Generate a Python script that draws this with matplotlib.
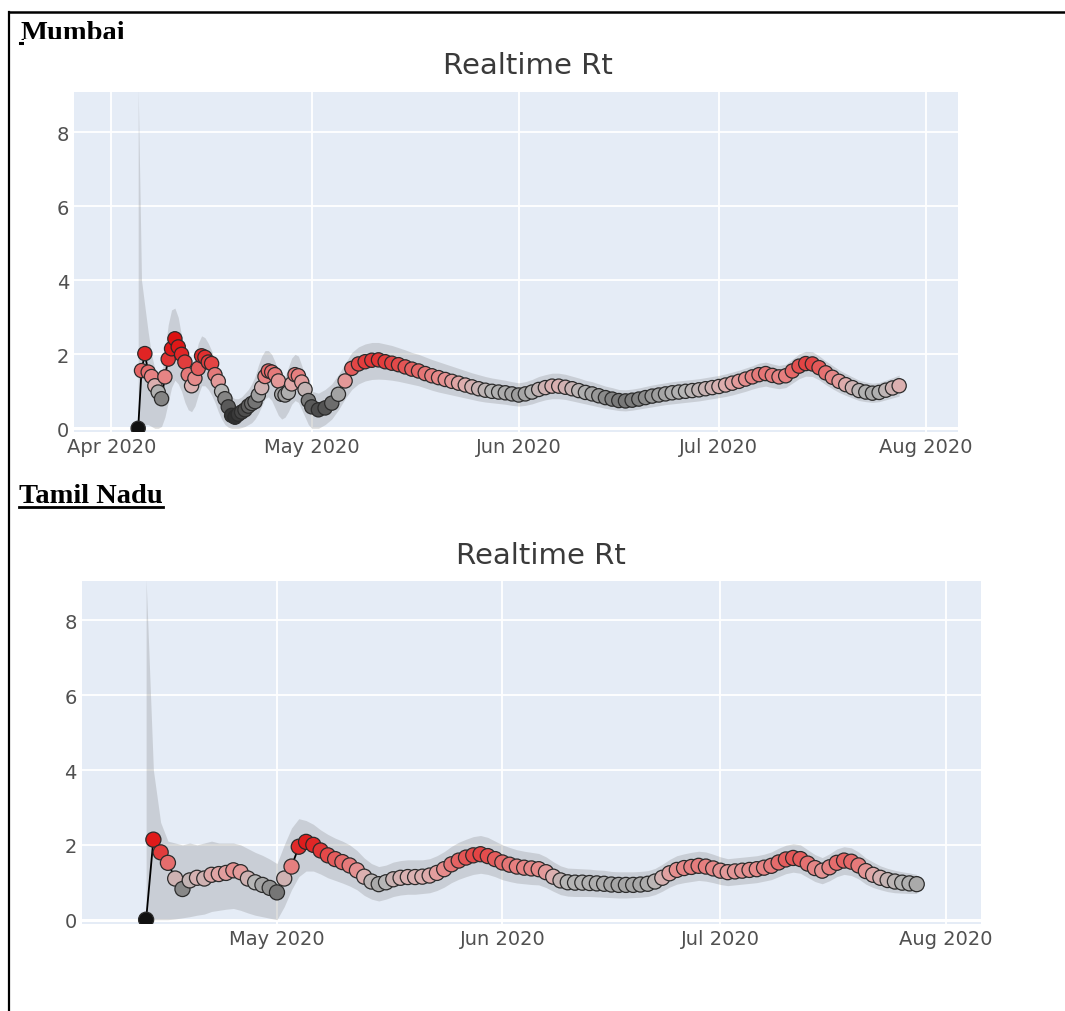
import numpy as np
import pandas as pd
import matplotlib
matplotlib.use('Agg')
import matplotlib.pyplot as plt
import matplotlib.dates as mdates
from matplotlib.colors import LinearSegmentedColormap, Normalize
from matplotlib.patches import Rectangle
from matplotlib.lines import Line2D

W, H = 1065, 1012

### Mumbai: twice-daily estimates through April, daily afterwards
mum_start_12h = '2020-04-05'
mum_rt_12h = [0.00, 1.56, 2.02, 1.52, 1.40, 1.15, 0.98, 0.80,
              1.39, 1.87, 2.15, 2.42, 2.20, 2.00, 1.79, 1.45,
              1.15, 1.35, 1.62, 1.96, 1.92, 1.79, 1.75, 1.45,
              1.27, 1.00, 0.80, 0.58, 0.35, 0.30, 0.38, 0.44,
              0.50, 0.60, 0.67, 0.72, 0.90, 1.10, 1.40, 1.55,
              1.52, 1.45, 1.28, 0.92, 0.90, 0.97, 1.20, 1.45,
              1.42, 1.25, 1.05, 0.75]
mum_lo_12h = [0.00, 0.05, 0.10, 0.10, 0.05, 0.00, 0.00, 0.05,
              0.30, 0.70, 1.10, 1.30, 1.20, 1.00, 0.70, 0.50,
              0.45, 0.60, 0.90, 1.15, 1.15, 1.05, 0.90, 0.70,
              0.45, 0.25, 0.10, 0.03, 0.00, 0.00, 0.00, 0.02,
              0.05, 0.10, 0.15, 0.25, 0.40, 0.60, 0.80, 0.85,
              0.75, 0.55, 0.35, 0.25, 0.30, 0.45, 0.65, 0.75,
              0.70, 0.50, 0.30, 0.10]
mum_hi_12h = [9.20, 4.00, 3.30, 2.60, 2.00, 1.60, 1.30, 1.40,
              2.10, 2.80, 3.20, 3.25, 3.00, 2.50, 2.00, 1.60,
              1.50, 1.90, 2.30, 2.50, 2.45, 2.30, 2.10, 1.80,
              1.50, 1.20, 1.00, 0.90, 0.85, 0.80, 0.80, 0.85,
              0.95, 1.05, 1.20, 1.40, 1.70, 1.95, 2.10, 2.10,
              2.00, 1.80, 1.50, 1.30, 1.40, 1.65, 1.90, 2.00,
              1.95, 1.70, 1.40, 1.10]

mum_start_daily = '2020-05-01'
mum_rt_daily = [0.58, 0.50, 0.55, 0.68, 0.92, 1.28, 1.62, 1.74, 1.80, 1.84,
                1.85, 1.80, 1.76, 1.72, 1.66, 1.60, 1.55, 1.48, 1.42, 1.37,
                1.32, 1.27, 1.22, 1.17, 1.12, 1.07, 1.03, 1.00, 0.98, 0.96,
                0.93,
                0.90, 0.93, 0.98, 1.05, 1.10, 1.14, 1.14, 1.11, 1.07, 1.02,
                0.97, 0.93, 0.88, 0.83, 0.79, 0.75, 0.74, 0.76, 0.79, 0.83,
                0.87, 0.90, 0.93, 0.96, 0.98, 1.00, 1.02, 1.04, 1.07, 1.10,
                1.13, 1.17, 1.22, 1.27, 1.33, 1.39, 1.45, 1.48, 1.43, 1.39,
                1.42, 1.55, 1.68, 1.75, 1.74, 1.64, 1.50, 1.38, 1.27, 1.18,
                1.10, 1.02, 0.98, 0.95, 0.97, 1.03, 1.09, 1.15]
mum_lo_daily = [0.00, 0.00, 0.10, 0.25, 0.50, 0.80, 1.05, 1.20, 1.28, 1.32,
                1.33, 1.32, 1.30, 1.27, 1.23, 1.19, 1.15, 1.09, 1.03, 0.98,
                0.94, 0.90, 0.86, 0.82, 0.78, 0.74, 0.71, 0.69, 0.67, 0.65,
                0.62,
                0.60, 0.62, 0.66, 0.72, 0.77, 0.80, 0.80, 0.78, 0.74, 0.70,
                0.66, 0.62, 0.58, 0.54, 0.51, 0.48, 0.47, 0.49, 0.52, 0.55,
                0.58, 0.61, 0.64, 0.66, 0.68, 0.70, 0.72, 0.74, 0.77, 0.80,
                0.83, 0.86, 0.90, 0.95, 1.00, 1.06, 1.11, 1.14, 1.10, 1.07,
                1.10, 1.22, 1.34, 1.41, 1.40, 1.31, 1.18, 1.07, 0.97, 0.89,
                0.82, 0.75, 0.72, 0.70, 0.72, 0.77, 0.82, 0.87]
mum_hi_daily = [1.00, 0.95, 1.05, 1.20, 1.45, 1.75, 2.05, 2.20, 2.28, 2.32,
                2.32, 2.28, 2.24, 2.18, 2.12, 2.05, 2.00, 1.93, 1.86, 1.80,
                1.74, 1.68, 1.62, 1.56, 1.50, 1.45, 1.40, 1.36, 1.33, 1.30,
                1.26,
                1.23, 1.26, 1.32, 1.40, 1.45, 1.49, 1.49, 1.46, 1.41, 1.36,
                1.30, 1.26, 1.20, 1.14, 1.10, 1.05, 1.04, 1.06, 1.09, 1.13,
                1.17, 1.20, 1.23, 1.26, 1.28, 1.30, 1.32, 1.34, 1.37, 1.40,
                1.43, 1.47, 1.52, 1.57, 1.63, 1.69, 1.76, 1.79, 1.74, 1.70,
                1.73, 1.87, 2.01, 2.08, 2.07, 1.96, 1.82, 1.70, 1.58, 1.48,
                1.39, 1.30, 1.25, 1.22, 1.24, 1.30, 1.37, 1.44]

### Tamil Nadu: daily estimates
tn_start = '2020-04-13'
tn_rt = [0.00, 2.14, 1.80, 1.52, 1.10, 0.82, 1.05, 1.12, 1.10, 1.20,
         1.22, 1.25, 1.32, 1.27, 1.10, 1.00, 0.93, 0.85,
         0.73, 1.10, 1.42, 1.95, 2.08, 2.00, 1.85, 1.72, 1.62, 1.54,
         1.45, 1.32, 1.15, 1.02, 0.95, 1.00, 1.08, 1.12, 1.14, 1.14,
         1.15, 1.18, 1.25, 1.35, 1.48, 1.58, 1.66, 1.72, 1.75, 1.70,
         1.62,
         1.53, 1.47, 1.42, 1.39, 1.37, 1.35, 1.27, 1.15, 1.05, 1.00,
         0.99, 0.99, 0.98, 0.97, 0.96, 0.94, 0.93, 0.93, 0.93, 0.94,
         0.96, 1.02, 1.12, 1.24, 1.33, 1.38, 1.41, 1.44, 1.42, 1.37,
         1.31, 1.27, 1.29, 1.31, 1.33, 1.35, 1.39, 1.44, 1.53, 1.61,
         1.65, 1.62, 1.50, 1.38, 1.31, 1.40, 1.52, 1.58, 1.55, 1.45,
         1.30, 1.20, 1.12, 1.06, 1.02, 0.99, 0.97, 0.95]
tn_lo = [0.00, 0.00, 0.00, 0.00, 0.02, 0.05, 0.08, 0.12, 0.15, 0.22,
         0.25, 0.28, 0.30, 0.25, 0.18, 0.12, 0.08, 0.04,
         0.00, 0.35, 0.80, 1.15, 1.30, 1.30, 1.22, 1.12, 1.05, 0.98,
         0.90, 0.80, 0.65, 0.55, 0.50, 0.55, 0.62, 0.66, 0.68, 0.68,
         0.70, 0.72, 0.78, 0.87, 0.99, 1.08, 1.15, 1.21, 1.24, 1.21,
         1.15,
         1.07, 1.02, 0.98, 0.96, 0.94, 0.93, 0.86, 0.76, 0.67, 0.63,
         0.62, 0.62, 0.62, 0.61, 0.60, 0.59, 0.58, 0.58, 0.59, 0.60,
         0.62, 0.67, 0.76, 0.87, 0.95, 0.99, 1.02, 1.05, 1.03, 0.99,
         0.94, 0.91, 0.93, 0.95, 0.97, 0.99, 1.03, 1.07, 1.15, 1.23,
         1.27, 1.24, 1.13, 1.02, 0.96, 1.04, 1.15, 1.21, 1.18, 1.09,
         0.95, 0.86, 0.80, 0.75, 0.72, 0.71, 0.70, 0.70]
tn_hi = [9.10, 4.00, 2.60, 2.10, 2.05, 2.00, 2.05, 2.00, 2.05, 2.10,
         2.05, 2.05, 2.05, 2.00, 1.90, 1.80, 1.72, 1.62,
         1.50, 2.00, 2.45, 2.70, 2.65, 2.55, 2.40, 2.28, 2.18, 2.10,
         2.00, 1.85, 1.65, 1.50, 1.42, 1.46, 1.54, 1.58, 1.60, 1.60,
         1.60, 1.63, 1.71, 1.82, 1.96, 2.07, 2.15, 2.22, 2.25, 2.20,
         2.10,
         2.00, 1.93, 1.87, 1.83, 1.80, 1.77, 1.68, 1.55, 1.44, 1.38,
         1.37, 1.36, 1.35, 1.33, 1.32, 1.29, 1.28, 1.28, 1.28, 1.29,
         1.31, 1.37, 1.48, 1.61, 1.71, 1.76, 1.80, 1.83, 1.81, 1.75,
         1.68, 1.63, 1.65, 1.67, 1.69, 1.71, 1.75, 1.81, 1.91, 1.99,
         2.03, 2.00, 1.87, 1.74, 1.66, 1.76, 1.89, 1.95, 1.92, 1.81,
         1.65, 1.54, 1.44, 1.37, 1.32, 1.28, 1.25, 1.21]

y_ticks = [0, 2, 4, 6, 8]


def fx(x):
    return x / W


def fy(y):
    return 1 - y / H


def rt_colors():
    # grey below Rt=1, shading into red above it
    stops = [(0.0, '#111111'), (0.35, '#363636'), (0.55, '#545454'),
             (0.8, '#858585'), (1.0, '#b6b6b6'), (1.15, '#ddb0b0'),
             (1.35, '#e68c8c'), (1.55, '#e56868'), (1.8, '#e23c3c'),
             (2.1, '#df1b1b'), (2.5, '#dc1010')]
    top = stops[-1][0]
    cmap = LinearSegmentedColormap.from_list('rt', [(v / top, c) for v, c in stops])
    return cmap, Normalize(0, top)


def plot_rt(ax, dates, rt, lo, hi, xlim, ylim, msize):
    cmap, norm = rt_colors()
    ax.set_facecolor('#e5ecf6')
    ax.fill_between(dates, lo, hi, color='#808080', alpha=0.27, lw=0, zorder=1)
    ax.plot(dates, rt, color='k', lw=1.3, zorder=2)
    ax.scatter(dates, rt, s=msize, c=rt, cmap=cmap, norm=norm,
               edgecolors='#2b2b2b', linewidths=0.9, zorder=3)
    ax.axhline(0, color='white', lw=2.2, zorder=0.6)

    ax.set_xlim(*xlim)
    ax.set_ylim(*ylim)
    ax.set_yticks(y_ticks)
    ax.xaxis.set_major_locator(mdates.MonthLocator())
    ax.xaxis.set_major_formatter(mdates.DateFormatter('%b %Y'))
    ax.set_axisbelow(True)
    ax.grid(color='white', lw=1.3)
    for s in ax.spines.values():
        s.set_visible(False)
    ax.tick_params(length=0, labelsize=14, labelcolor='#505050', pad=3.6)


def axes_at(fig, x0, y0, x1, y1):
    return fig.add_axes([fx(x0), fy(y1), fx(x1) - fx(x0), (y1 - y0) / H])


if __name__ == "__main__":
    mum_dates = pd.date_range(mum_start_12h, periods=len(mum_rt_12h), freq='12h').append(
        pd.date_range(mum_start_daily, periods=len(mum_rt_daily), freq='D'))
    mum_rt = mum_rt_12h + mum_rt_daily
    mum_lo = mum_lo_12h + mum_lo_daily
    mum_hi = mum_hi_12h + mum_hi_daily
    tn_dates = pd.date_range(tn_start, periods=len(tn_rt), freq='D')

    fig = plt.figure(figsize=(W / 100, H / 100), dpi=100)
    fig.patch.set_facecolor('white')

    # table cell frame
    fig.add_artist(Line2D([fx(8.5), fx(W)], [fy(13), fy(13)], color='k', lw=1.8))
    fig.add_artist(Line2D([fx(8.5), fx(8.5)], [fy(13), fy(H)], color='k', lw=1.6))

    head = dict(fontfamily='Liberation Serif', fontweight='bold', fontsize=20.5,
                ha='left', va='baseline', color='k')
    fig.text(fx(20.5), fy(40.5), 'Mumbai', zorder=3, **head)
    fig.add_artist(Line2D([fx(19.5), fx(127)], [fy(43.5), fy(43.5)], color='k', lw=2.2, zorder=3))
    tn_head = fig.text(fx(19.3), fy(503.3), 'Tamil Nadu', zorder=3, **head)

    # white sheet of the Mumbai chart sits over the heading's lower edge
    fig.add_artist(Rectangle((fx(23.5), fy(462)), fx(1000) - fx(23.5), (462 - 39.5) / H,
                             transform=fig.transFigure, facecolor='white',
                             edgecolor='none', zorder=4))

    title = dict(fontsize=21, color='#3a3a3a', ha='center', va='baseline', zorder=6)
    fig.text(fx(528), fy(73.5), 'Realtime Rt', **title)
    fig.text(fx(541), fy(564), 'Realtime Rt', **title)

    ax1 = axes_at(fig, 74.3, 92.7, 957.7, 433)
    ax1.set_zorder(5)
    apr1 = pd.Timestamp('2020-04-01')
    plot_rt(ax1, mum_dates, mum_rt, mum_lo, mum_hi,
            (apr1 - pd.Timedelta(days=5.57), apr1 + pd.Timedelta(days=126.77)),
            (-0.1, 9.1), 105)

    ax2 = axes_at(fig, 81.7, 581.7, 981, 925)
    may1 = pd.Timestamp('2020-05-01')
    plot_rt(ax2, tn_dates, tn_rt, tn_lo, tn_hi,
            (may1 - pd.Timedelta(days=26.86), may1 + pd.Timedelta(days=96.84)),
            (-0.115, 9.06), 118)

    fig.canvas.draw()
    bb = tn_head.get_window_extent()
    fig.add_artist(Line2D([bb.x0 / W, bb.x1 / W], [fy(508), fy(508)], color='k', lw=2.0))

    fig.savefig('out.png', dpi=100)
